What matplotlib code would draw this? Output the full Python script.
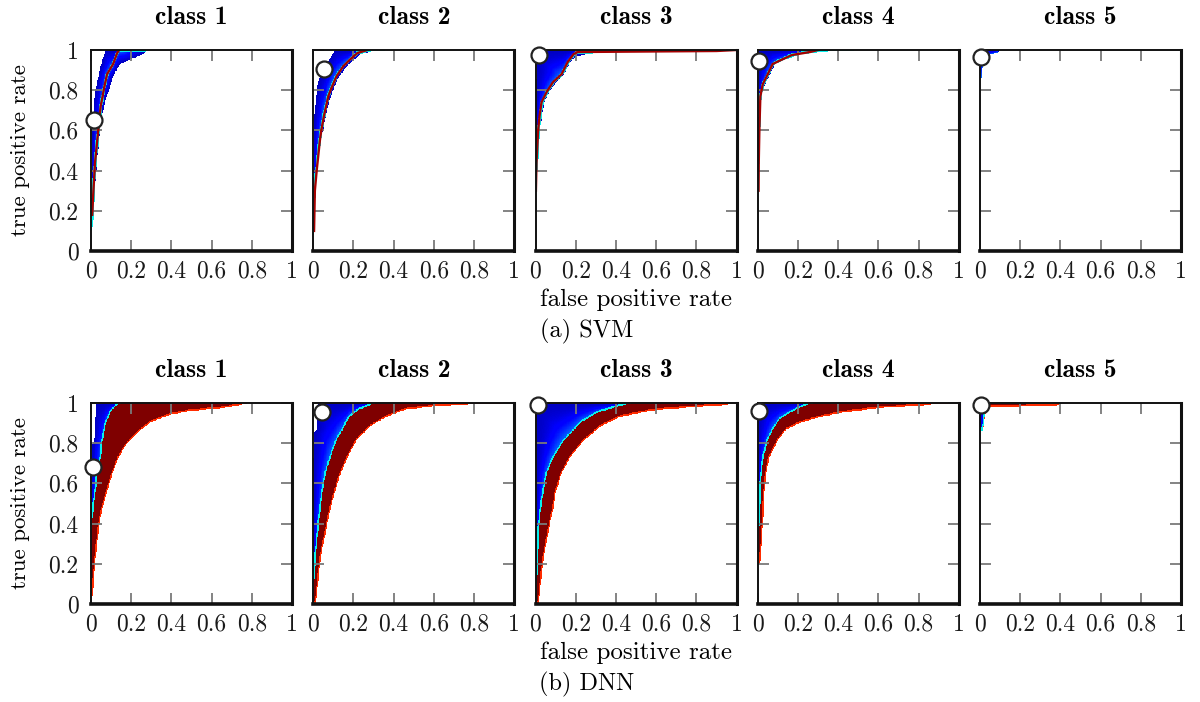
import numpy as np
import matplotlib
matplotlib.use("Agg")
import matplotlib.pyplot as plt
from matplotlib import colormaps

plt.rcParams['font.family'] = 'cmr10'
plt.rcParams['mathtext.fontset'] = 'cm'
plt.rcParams['axes.unicode_minus'] = False
plt.rcParams['axes.formatter.use_mathtext'] = True

classes = ['class 1', 'class 2', 'class 3', 'class 4', 'class 5']
tick_vals = [0, 0.2, 0.4, 0.6, 0.8, 1]
tick_text = ['0', '0.2', '0.4', '0.6', '0.8', '1']

# ---- SVM: (fpr, tpr) envelopes of the bootstrapped ROC curves ----
svm_c1_upper = [(0.0, 0.13), (0.005, 0.55), (0.012, 0.72), (0.022, 0.80), (0.035, 0.86),
                (0.048, 0.92), (0.062, 0.97), (0.075, 1.0)]
svm_c1_median = [(0.006, 0.18), (0.012, 0.30), (0.02, 0.44), (0.028, 0.52), (0.036, 0.60),
                 (0.048, 0.72), (0.058, 0.77), (0.065, 0.81), (0.08, 0.88), (0.11, 0.93),
                 (0.13, 0.985), (0.14, 1.0)]
svm_c1_lower = [(0.006, 0.10), (0.015, 0.20), (0.02, 0.30), (0.03, 0.45), (0.045, 0.60),
                (0.06, 0.70), (0.075, 0.76), (0.09, 0.80), (0.11, 0.87), (0.145, 0.93),
                (0.20, 0.955), (0.26, 0.98), (0.28, 1.0)]

svm_c2_upper = [(0.0, 0.12), (0.003, 0.60), (0.01, 0.72), (0.025, 0.84), (0.05, 0.90),
                (0.08, 0.95), (0.11, 1.0)]
svm_c2_median = [(0.004, 0.10), (0.008, 0.30), (0.017, 0.40), (0.033, 0.55), (0.04, 0.60),
                 (0.055, 0.68), (0.075, 0.77), (0.09, 0.81), (0.116, 0.87), (0.15, 0.92),
                 (0.18, 0.95), (0.22, 0.985), (0.27, 1.0)]
svm_c2_lower = [(0.006, 0.08), (0.012, 0.30), (0.022, 0.42), (0.04, 0.55), (0.05, 0.60),
                (0.065, 0.68), (0.085, 0.76), (0.10, 0.80), (0.125, 0.86), (0.16, 0.91),
                (0.19, 0.94), (0.24, 0.98), (0.30, 0.995), (0.38, 1.0)]

svm_c3_upper = [(0.0, 0.34), (0.002, 1.0)]
svm_c3_median = [(0.002, 0.30), (0.005, 0.44), (0.013, 0.60), (0.02, 0.67), (0.03, 0.74),
                 (0.055, 0.79), (0.087, 0.84), (0.13, 0.88), (0.16, 0.94), (0.19, 0.98),
                 (0.21, 0.99), (0.90, 0.995), (1.0, 1.0)]
svm_c3_lower = [(0.003, 0.30), (0.01, 0.44), (0.02, 0.60), (0.03, 0.67), (0.04, 0.74),
                (0.065, 0.79), (0.10, 0.84), (0.14, 0.88), (0.17, 0.94), (0.20, 0.97),
                (0.33, 0.99), (1.0, 1.0)]

svm_c4_upper = [(0.0, 0.30), (0.003, 1.0)]
svm_c4_median = [(0.004, 0.30), (0.005, 0.44), (0.008, 0.60), (0.013, 0.77), (0.025, 0.83),
                 (0.05, 0.88), (0.074, 0.93), (0.115, 0.95), (0.17, 0.975), (0.26, 0.99),
                 (0.30, 1.0)]
svm_c4_lower = [(0.006, 0.30), (0.01, 0.60), (0.018, 0.77), (0.035, 0.83), (0.06, 0.88),
                (0.085, 0.93), (0.13, 0.95), (0.20, 0.975), (0.30, 0.99), (0.51, 1.0)]

svm_c5_upper = [(0.0, 0.86), (0.002, 1.0)]
svm_c5_median = None
svm_c5_lower = [(0.008, 0.86), (0.013, 0.95), (0.03, 0.97), (0.06, 0.98), (0.09, 0.99),
                (0.10, 1.0)]

svm_point_fpr = [0.015, 0.053, 0.016, 0.008, 0.004]
svm_point_tpr = [0.65, 0.905, 0.975, 0.945, 0.965]

# ---- DNN: upper envelope, top and bottom of the dense curve band ----
dnn_c1_upper = [(0.0, 0.45), (0.004, 0.78), (0.02, 0.84), (0.026, 1.0)]
dnn_c1_band_top = [(0.0, 0.36), (0.005, 0.40), (0.015, 0.50), (0.025, 0.57), (0.033, 0.65),
                   (0.05, 0.73), (0.058, 0.81), (0.075, 0.90), (0.10, 0.96), (0.13, 0.99),
                   (0.15, 1.0)]
dnn_c1_band_bottom = [(0.003, 0.0), (0.008, 0.04), (0.02, 0.20), (0.033, 0.32), (0.042, 0.40),
                      (0.058, 0.48), (0.083, 0.57), (0.108, 0.65), (0.138, 0.73), (0.166, 0.78),
                      (0.19, 0.81), (0.24, 0.86), (0.30, 0.906), (0.39, 0.94), (0.49, 0.96),
                      (0.66, 0.975), (0.74, 0.99), (0.78, 1.0)]

dnn_c2_upper = [(0.0, 0.30), (0.002, 0.85), (0.02, 0.87), (0.025, 1.0)]
dnn_c2_band_top = [(0.0, 0.0), (0.005, 0.07), (0.013, 0.23), (0.03, 0.40), (0.038, 0.48),
                   (0.05, 0.57), (0.063, 0.65), (0.088, 0.73), (0.12, 0.82), (0.155, 0.88),
                   (0.18, 0.93), (0.23, 0.967), (0.28, 0.987), (0.31, 1.0)]
dnn_c2_band_bottom = [(0.013, 0.0), (0.022, 0.07), (0.038, 0.23), (0.072, 0.40), (0.088, 0.48),
                      (0.113, 0.57), (0.138, 0.65), (0.172, 0.73), (0.22, 0.82), (0.28, 0.88),
                      (0.363, 0.93), (0.46, 0.967), (0.63, 0.987), (0.90, 0.997), (1.0, 1.0)]

dnn_c3_upper = [(0.0, 0.37), (0.001, 1.0)]
dnn_c3_band_top = [(0.0, 0.0), (0.005, 0.03), (0.01, 0.23), (0.013, 0.36), (0.02, 0.43),
                   (0.03, 0.51), (0.038, 0.56), (0.054, 0.65), (0.087, 0.73), (0.137, 0.81),
                   (0.22, 0.90), (0.30, 0.95), (0.40, 0.98), (0.465, 0.997), (0.48, 1.0)]
dnn_c3_band_bottom = [(0.013, 0.0), (0.02, 0.066), (0.038, 0.23), (0.07, 0.40), (0.087, 0.48),
                      (0.10, 0.56), (0.128, 0.65), (0.17, 0.73), (0.235, 0.81), (0.317, 0.88),
                      (0.416, 0.93), (0.58, 0.963), (0.79, 0.98), (0.94, 0.99), (1.0, 1.0)]

dnn_c4_upper = [(0.0, 0.62), (0.001, 1.0)]
dnn_c4_band_top = [(0.004, 0.20), (0.005, 0.22), (0.008, 0.40), (0.013, 0.567), (0.018, 0.65),
                   (0.028, 0.733), (0.05, 0.817), (0.074, 0.867), (0.107, 0.917), (0.157, 0.95),
                   (0.223, 0.983), (0.265, 0.997), (0.28, 1.0)]
dnn_c4_band_bottom = [(0.008, 0.20), (0.012, 0.217), (0.025, 0.40), (0.033, 0.567), (0.041, 0.65),
                      (0.058, 0.733), (0.10, 0.817), (0.14, 0.867), (0.207, 0.90), (0.29, 0.925),
                      (0.405, 0.95), (0.60, 0.975), (0.80, 0.987), (0.92, 0.997), (1.0, 1.0)]

dnn_c5_upper = [(0.0, 0.86), (0.001, 1.0)]
dnn_c5_band_top = [(0.012, 0.86), (0.02, 0.90), (0.028, 0.975), (0.045, 0.993), (0.38, 0.998),
                   (0.40, 1.0)]
dnn_c5_band_bottom = [(0.013, 0.86), (0.021, 0.90), (0.03, 0.97), (0.05, 0.981), (0.38, 0.985),
                      (0.40, 1.0)]

dnn_point_fpr = [0.008, 0.042, 0.013, 0.005, 0.004]
dnn_point_tpr = [0.68, 0.955, 0.99, 0.958, 0.99]

svm_panels = [
    (svm_c1_upper, svm_c1_median, svm_c1_lower),
    (svm_c2_upper, svm_c2_median, svm_c2_lower),
    (svm_c3_upper, svm_c3_median, svm_c3_lower),
    (svm_c4_upper, svm_c4_median, svm_c4_lower),
    (svm_c5_upper, svm_c5_median, svm_c5_lower),
]
dnn_panels = [
    (dnn_c1_upper, dnn_c1_band_top, dnn_c1_band_bottom),
    (dnn_c2_upper, dnn_c2_band_top, dnn_c2_band_bottom),
    (dnn_c3_upper, dnn_c3_band_top, dnn_c3_band_bottom),
    (dnn_c4_upper, dnn_c4_band_top, dnn_c4_band_bottom),
    (dnn_c5_upper, dnn_c5_band_top, dnn_c5_band_bottom),
]

N = 320
grid = (np.arange(N) + 0.5) / N
X, Y = np.meshgrid(grid, grid)


def tpr_at(curve, fpr):
    c = np.asarray(curve, float)
    return np.interp(fpr, c[:, 0], c[:, 1])


def fpr_at(curve, tpr):
    c = np.asarray(curve, float)
    return np.interp(tpr, c[:, 1], c[:, 0])


def between(upper, lower):
    """Cells lying right/below `upper` and left/above `lower`."""
    return ((Y <= tpr_at(upper, X)) & (X >= fpr_at(upper, Y)) &
            (Y >= tpr_at(lower, X)) & (X <= fpr_at(lower, Y)))


def density_image(upper, center, lower, filled_band):
    img = np.full((N, N), np.nan)
    has_center = center is not None
    if not has_center:
        center = lower
    outer = between(upper, center if filled_band else lower)
    yc, xc = tpr_at(center, X), fpr_at(center, Y)
    yh, xh = tpr_at(upper, X), fpr_at(upper, Y)
    yl, xl = tpr_at(lower, X), fpr_at(lower, Y)
    above = Y > yc
    eps = 1e-6
    tcol = np.where(above, (yh - Y) / np.maximum(yh - yc, eps),
                    (Y - yl) / np.maximum(yc - yl, eps))
    trow = np.where(above, (X - xh) / np.maximum(xc - xh, eps),
                    (xl - X) / np.maximum(xl - xc, eps))
    t = np.clip(np.minimum(tcol, trow), 0, 1)
    img[outer] = (0.06 + 0.18 * t ** 1.6)[outer]
    if has_center:
        near = (np.abs(Y - yc) < 0.010) | (np.abs(X - xc) < 0.008)
        img[outer & near] = 0.36
    if filled_band:
        band = between(center, lower)
        img[band] = 1.0
        edge = band & (((Y - yl) < 0.009) | ((xl - X) < 0.007))
        img[edge] = 0.86
    return img


cmap = colormaps['jet'].with_extremes(bad=(1, 1, 1, 0))

fig = plt.figure(figsize=(12, 7.02), dpi=100)
W, H = 1200.0, 702.0
lefts = [91, 313.25, 535.5, 757.75, 980]
size = 201
row_bottoms = [251, 604]


def style_axes(ax, show_y):
    ax.set_xlim(0, 1)
    ax.set_ylim(0, 1)
    ax.set_xticks(tick_vals)
    ax.set_xticklabels(tick_text)
    ax.set_yticks(tick_vals)
    ax.set_yticklabels(tick_text)
    ax.tick_params(direction='in', length=8, width=1.3, color='#7a7a7a',
                   top=True, right=True, labelsize=17, pad=7,
                   labelleft=show_y, labelcolor='#1a1a1a')
    ax.tick_params(axis='y', pad=9)
    for side, lw in (('left', 1.4), ('top', 1.4), ('bottom', 2.6), ('right', 2.2)):
        ax.spines[side].set_linewidth(lw)
        ax.spines[side].set_color('#111111')
        ax.spines[side].set_zorder(5)


models = [
    (svm_panels, svm_point_fpr, svm_point_tpr, False),
    (dnn_panels, dnn_point_fpr, dnn_point_tpr, True),
]

for r, (panels, pfpr, ptpr, filled) in enumerate(models):
    bottom_px = row_bottoms[r]
    for c in range(5):
        ax = fig.add_axes([lefts[c] / W, 1 - bottom_px / H, size / W, size / H])
        upper, center, lower = panels[c]
        img = density_image(upper, center, lower, filled)
        ax.imshow(img, extent=[0, 1, 0, 1], origin='lower', cmap=cmap, vmin=0, vmax=1,
                  interpolation='nearest', aspect='auto', zorder=1)
        if not filled and center is not None:
            cc = np.asarray(center)
            ax.plot(cc[:, 0], cc[:, 1], color='#a50000', lw=1.7, zorder=2)
        ax.plot(pfpr[c], ptpr[c], 'o', ms=11.5, mfc='white', mec='#222222', mew=1.6,
                clip_on=False, zorder=10)
        style_axes(ax, c == 0)
        ax.set_title(classes[c], fontfamily='cmb10', fontsize=18.5, pad=19)

    top_px = bottom_px - size
    fig.text(20 / W, 1 - (top_px + size / 2) / H, 'true positive rate', rotation=90,
             ha='center', va='center', fontsize=16.5)
    fig.text(636 / W, 1 - (bottom_px + 49) / H, 'false positive rate',
             ha='center', va='center', fontsize=18)
    fig.text(587 / W, 1 - (bottom_px + 80) / H, '(a) SVM' if r == 0 else '(b) DNN',
             ha='center', va='center', fontsize=17.5)

fig.savefig('out.png', dpi=100)
